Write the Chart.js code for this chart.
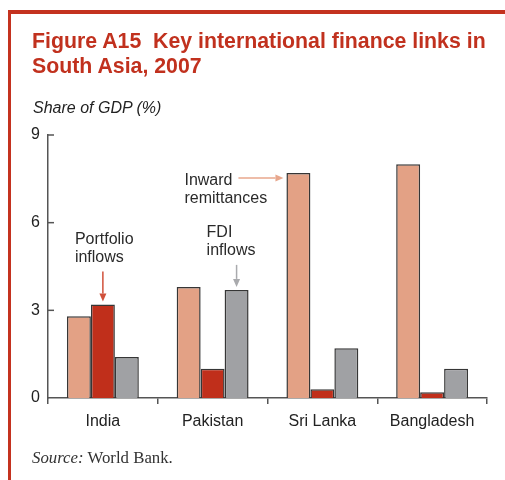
<!DOCTYPE html>
<html>
<head>
<meta charset="utf-8">
<script src="https://cdn.jsdelivr.net/npm/chart.js@4/dist/chart.umd.min.js"></script>
<style>
  html, body { margin: 0; padding: 0; background: #fff; }
  #page { position: relative; width: 505px; height: 480px; overflow: hidden; background: #fff; }
  #frameTop { position: absolute; left: 8px; top: 10px; width: 497px; height: 3.5px; background: #c4321f; }
  #frameLeft { position: absolute; left: 8px; top: 10px; width: 3px; height: 470px; background: #c4321f; }
  #title { position: absolute; left: 32px; top: 29px; font: bold 21.3px/25px "Liberation Sans", Arial, sans-serif; color: #c1311e; white-space: pre; }
  #unit { position: absolute; left: 33px; top: 98.5px; font: italic 16px/18px "Liberation Sans", Arial, sans-serif; color: #222; white-space: pre; }
  #source { position: absolute; left: 32px; top: 448px; font: 16.8px/19px "Liberation Serif", "Times New Roman", serif; color: #333; white-space: pre; }
  #chart { position: absolute; left: 0; top: 0; }
</style>
</head>
<body>
<div id="page">
  <canvas id="chart" width="505" height="480"></canvas>
  <div id="frameTop"></div>
  <div id="frameLeft"></div>
  <div id="title">Figure A15  Key international finance links in
South Asia, 2007</div>
  <div id="unit">Share of GDP (%)</div>
  <div id="source"><i>Source:</i> World Bank.</div>
</div>
<script>
// Share of GDP (%), 2007
const countries = ['India', 'Pakistan', 'Sri Lanka', 'Bangladesh'];
const remittances = [2.8, 3.8, 7.7, 8.0];
const portfolio = [3.2, 1.0, 0.3, 0.2];
const fdi = [1.4, 3.7, 1.7, 1.0];
const yTicks = [0, 3, 6, 9];

const FONT = '"Liberation Sans", Arial, sans-serif';
const SALMON = '#e3a185';
const RED = '#c02f1b';
const GREY = '#a0a1a4';
const EDGE = '#363636';
const AXIS = '#555555';

// Short tick marks pointing into the plot, plus the callout labels with arrows
const annotations = {
  id: 'annotations',
  afterDatasetsDraw(chart) {
    const ctx = chart.ctx;
    const y = chart.scales.y;
    const left = chart.chartArea.left;
    ctx.save();
    ctx.strokeStyle = AXIS;
    ctx.lineWidth = 1.5;
    yTicks.forEach(v => {
      if (v === 0) return;
      const py = y.getPixelForValue(v);
      ctx.beginPath();
      ctx.moveTo(left, py);
      ctx.lineTo(left + 6, py);
      ctx.stroke();
    });

    const bar = (ds, i) => chart.getDatasetMeta(ds).data[i];
    const arrow = (x1, y1, x2, y2, color) => {
      const ang = Math.atan2(y2 - y1, x2 - x1);
      const hl = 8, hw = 3.5;
      const bx = x2 - hl * Math.cos(ang), by = y2 - hl * Math.sin(ang);
      ctx.strokeStyle = color;
      ctx.fillStyle = color;
      ctx.lineWidth = 1.5;
      ctx.beginPath();
      ctx.moveTo(x1, y1);
      ctx.lineTo(bx, by);
      ctx.stroke();
      ctx.beginPath();
      ctx.moveTo(x2, y2);
      ctx.lineTo(bx - hw * Math.sin(ang), by + hw * Math.cos(ang));
      ctx.lineTo(bx + hw * Math.sin(ang), by - hw * Math.cos(ang));
      ctx.closePath();
      ctx.fill();
    };
    const label = (lines, x, y0) => {
      ctx.fillStyle = '#2a2a2a';
      ctx.font = '16px ' + FONT;
      ctx.textAlign = 'left';
      ctx.textBaseline = 'alphabetic';
      lines.forEach((t, k) => ctx.fillText(t, x, y0 + k * 18));
    };

    // Portfolio inflows -> India
    const p = bar(1, 0);
    arrow(p.x, p.y - 33, p.x, p.y - 3, '#d0503b');
    label(['Portfolio', 'inflows'], p.x - 28, p.y - 60);

    // FDI inflows -> Pakistan
    const f = bar(2, 1);
    arrow(f.x, f.y - 25, f.x, f.y - 3, '#a9aaad');
    label(['FDI', 'inflows'], f.x - 30, f.y - 53);

    // Inward remittances -> Sri Lanka
    const r = bar(0, 2);
    const rl = r.x - r.width / 2;
    arrow(rl - 48, r.y + 5, rl - 3, r.y + 5, '#e8a78d');
    label(['Inward', 'remittances'], rl - 102, r.y + 12);
    ctx.restore();
  }
};

const barStyle = { borderColor: EDGE, borderWidth: 1.5, borderSkipped: 'bottom' };

new Chart(document.getElementById('chart'), {
  type: 'bar',
  data: {
    labels: countries,
    datasets: [
      Object.assign({ label: 'Inward remittances', data: remittances, backgroundColor: SALMON }, barStyle),
      Object.assign({ label: 'Portfolio inflows', data: portfolio, backgroundColor: RED }, barStyle),
      Object.assign({ label: 'FDI inflows', data: fdi, backgroundColor: GREY }, barStyle)
    ]
  },
  options: {
    responsive: false,
    animation: false,
    devicePixelRatio: 1,
    layout: { padding: { left: 0, right: 18, top: 135, bottom: 0 } },
    datasets: { bar: { barPercentage: 1.0, categoryPercentage: 0.655 } },
    plugins: { legend: { display: false }, tooltip: { enabled: false }, title: { display: false } },
    scales: {
      x: {
        grid: { offset: true, drawOnChartArea: false, drawTicks: true, tickLength: 6, color: AXIS, lineWidth: 1.5 },
        border: { display: true, color: AXIS, width: 1.5 },
        ticks: { color: '#222', font: { family: FONT, size: 16 }, padding: 8, maxRotation: 0 },
        afterFit: s => { s.height = 82; }
      },
      y: {
        min: 0, max: 9,
        afterBuildTicks: s => { s.ticks = yTicks.map(v => ({ value: v })); },
        grid: { display: false, drawTicks: false },
        border: { display: true, color: AXIS, width: 1.5 },
        ticks: { color: '#222', font: { family: FONT, size: 16 }, padding: 8 },
        afterFit: s => { s.width = 48; }
      }
    }
  },
  plugins: [annotations]
});
</script>
</body>
</html>
